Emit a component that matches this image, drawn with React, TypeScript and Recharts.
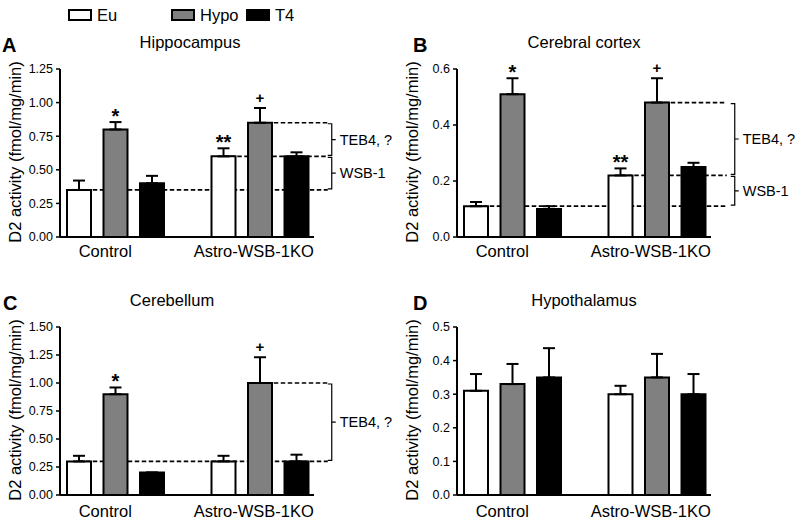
import React from "react";
import { BarChart, Bar, XAxis, YAxis, ErrorBar, ReferenceLine, LabelList } from "recharts";

const FONT = '"Liberation Sans", Arial, Helvetica, sans-serif';

const BAR_SIZE = 24;
const BAR_GAP = 12.5;
const PITCH = BAR_SIZE + BAR_GAP;

const groups = ["Control", "Astro-WSB-1KO"];

// A - Hippocampus
const hippoEu = [0.35, 0.6];
const hippoEuErr = [0.07, 0.06];
const hippoHypo = [0.8, 0.85];
const hippoHypoErr = [0.055, 0.11];
const hippoT4 = [0.4, 0.6];
const hippoT4Err = [0.055, 0.03];
const hippoEuSig = ["", "**"];
const hippoHypoSig = ["*", "+"];
const hippoTicks = [0, 0.25, 0.5, 0.75, 1, 1.25];

// B - Cerebral cortex
const cortexEu = [0.11, 0.22];
const cortexEuErr = [0.015, 0.025];
const cortexHypo = [0.51, 0.48];
const cortexHypoErr = [0.057, 0.087];
const cortexT4 = [0.1, 0.25];
const cortexT4Err = [0.01, 0.015];
const cortexEuSig = ["", "**"];
const cortexHypoSig = ["*", "+"];
const cortexTicks = [0, 0.2, 0.4, 0.6];

// C - Cerebellum
const cbEu = [0.3, 0.3];
const cbEuErr = [0.05, 0.05];
const cbHypo = [0.9, 1.0];
const cbHypoErr = [0.06, 0.23];
const cbT4 = [0.2, 0.3];
const cbT4Err = [0, 0.06];
const cbEuSig = ["", ""];
const cbHypoSig = ["*", "+"];
const cbTicks = [0, 0.25, 0.5, 0.75, 1, 1.25, 1.5];

// D - Hypothalamus
const hypEu = [0.31, 0.3];
const hypEuErr = [0.05, 0.025];
const hypHypo = [0.33, 0.35];
const hypHypoErr = [0.06, 0.07];
const hypT4 = [0.35, 0.3];
const hypT4Err = [0.087, 0.06];
const hypEuSig = ["", ""];
const hypHypoSig = ["", ""];
const hypTicks = [0, 0.1, 0.2, 0.3, 0.4, 0.5];

// dashed guides: level, group it starts in, bar it starts at (-1 Eu, 0 Hypo)
const hippoGuides = [
  { y: 0.35, group: 0, bar: -1 },
  { y: 0.6, group: 1, bar: -1 },
  { y: 0.85, group: 1, bar: 0 },
];
const hippoBraces = [
  { lo: 0.35, hi: 0.6, text: "WSB-1" },
  { lo: 0.6, hi: 0.85, text: "TEB4, ?" },
];
const cortexGuides = [
  { y: 0.11, group: 0, bar: -1 },
  { y: 0.22, group: 1, bar: -1 },
  { y: 0.48, group: 1, bar: 0 },
];
const cortexBraces = [
  { lo: 0.11, hi: 0.22, text: "WSB-1" },
  { lo: 0.22, hi: 0.48, text: "TEB4, ?" },
];
const cbGuides = [
  { y: 0.3, group: 0, bar: -1 },
  { y: 1.0, group: 1, bar: 0 },
];
const cbBraces = [{ lo: 0.3, hi: 1.0, text: "TEB4, ?" }];

type Guide = { y: number; group: number; bar: number };
type Brace = { lo: number; hi: number; text: string };

function makeRows(
  eu: number[], euErr: number[], hypo: number[], hypoErr: number[],
  t4: number[], t4Err: number[], euSig: string[], hypoSig: string[]
) {
  return groups.map((g, i) => ({
    group: g,
    eu: eu[i],
    euErr: [0, euErr[i]],
    euSig: euSig[i],
    hypo: hypo[i],
    hypoErr: [0, hypoErr[i]],
    hypoSig: hypoSig[i],
    t4: t4[i],
    t4Err: [0, t4Err[i]],
  }));
}

const sigMark = (vals: number[], errs: number[]) => (props: any) => {
  const value = props.value;
  if (!value) return null;
  const vb = props.viewBox || props;
  const idx = props.index ?? 0;
  const ppu = vb.height / vals[idx];
  const top = vb.y - errs[idx] * ppu;
  const plus = value === "+";
  return (
    <text
      x={vb.x + vb.width / 2}
      y={plus ? top - 5 : top + 0.5}
      textAnchor="middle"
      fontSize={plus ? 15 : 20}
      fontWeight="bold"
      fontFamily={FONT}
      fill="#000"
    >
      {value}
    </text>
  );
};

// dashed level line: starts at a bar of one group, runs past the last group
const guideShape = (bar: number, ext: number) => (p: any) => (
  <line
    x1={p.x1 + bar * PITCH}
    y1={p.y1}
    x2={p.x2 + ext}
    y2={p.y2}
    stroke="#000"
    strokeWidth={1.7}
    strokeDasharray="4.5 2.5"
  />
);

const braceShape = (text: string, off: number) => (p: any) => {
  const x = p.x1 + off;
  const yTop = Math.min(p.y1, p.y2) + 1;
  const yBot = Math.max(p.y1, p.y2) - 1;
  const mid = (yTop + yBot) / 2;
  return (
    <g>
      <path
        d={`M${x - 4},${yTop} H${x} V${yBot} H${x - 4} M${x},${mid} H${x + 4}`}
        fill="none"
        stroke="#000"
        strokeWidth={1.2}
      />
      <text x={x + 8} y={mid} dy="0.35em" fontSize={14.5} fontFamily={FONT} fill="#000">
        {text}
      </text>
    </g>
  );
};

const catTick = (shift: number) => (p: any) => (
  <text
    x={p.x + (p.index === 0 ? -10 : -6)}
    y={p.y + shift}
    dy="0.71em"
    textAnchor="middle"
    fill="#000"
    fontSize={16.5}
    fontFamily={FONT}
  >
    {p.payload.value}
  </text>
);

interface PanelProps {
  left: number;
  top: number;
  letter: string;
  letterX: number;
  title: string;
  titleX: number;
  rows: any[];
  eu: number[];
  euErr: number[];
  hypo: number[];
  hypoErr: number[];
  ticks: number[];
  decimals: number;
  guides: Guide[];
  braces: Brace[];
  guideExt: number;
  braceOff: number;
  labelShift: number;
}

function Panel(props: PanelProps) {
  const { left, top, letter, letterX, title, titleX, rows, ticks, decimals, guides, braces, guideExt, braceOff, labelShift } = props;
  return (
    <div style={{ position: "absolute", left, top, width: 400, height: 265 }}>
      <BarChart
        width={400}
        height={265}
        data={rows}
        margin={{ top: 69, right: 86, bottom: 0, left: 0 }}
        barSize={BAR_SIZE}
        barGap={BAR_GAP}
        style={{ overflow: "visible" }}
      >
        <XAxis
          dataKey="group"
          axisLine={{ stroke: "#000", strokeWidth: 2 }}
          tickLine={false}
          padding={{ left: -17, right: -18 }}
          height={28}
          interval={0}
          tick={catTick(labelShift)}
        />
        <YAxis
          width={60}
          domain={[ticks[0], ticks[ticks.length - 1]]}
          ticks={ticks}
          interval={0}
          allowDataOverflow
          tickFormatter={(v: number) => v.toFixed(decimals)}
          axisLine={{ stroke: "#000", strokeWidth: 2 }}
          tickLine={{ stroke: "#000", strokeWidth: 1.5 }}
          tickSize={4}
          tickMargin={3}
          tick={{ fill: "#000", fontSize: 12.5, fontFamily: FONT }}
        />
        {guides.map((g, i) => (
          <ReferenceLine
            key={`g${i}`}
            segment={[{ x: groups[g.group], y: g.y }, { x: groups[1], y: g.y }]}
            ifOverflow="visible"
            zIndex={-1}
            shape={guideShape(g.bar, guideExt)}
          />
        ))}
        {braces.map((b, i) => (
          <ReferenceLine
            key={`b${i}`}
            segment={[{ x: groups[1], y: b.lo }, { x: groups[1], y: b.hi }]}
            ifOverflow="visible"
            shape={braceShape(b.text, braceOff)}
          />
        ))}
        <Bar dataKey="eu" fill="#ffffff" stroke="#000" strokeWidth={2} isAnimationActive={false}>
          <ErrorBar dataKey="euErr" width={6} stroke="#000" strokeWidth={2} direction="y" />
          <LabelList dataKey="euSig" content={sigMark(props.eu, props.euErr)} />
        </Bar>
        <Bar dataKey="hypo" fill="#808080" stroke="#000" strokeWidth={2} isAnimationActive={false}>
          <ErrorBar dataKey="hypoErr" width={6} stroke="#000" strokeWidth={2} direction="y" />
          <LabelList dataKey="hypoSig" content={sigMark(props.hypo, props.hypoErr)} />
        </Bar>
        <Bar dataKey="t4" fill="#000" stroke="#000" strokeWidth={2} isAnimationActive={false}>
          <ErrorBar dataKey="t4Err" width={6} stroke="#000" strokeWidth={2} direction="y" />
        </Bar>
      </BarChart>
      <svg
        width={400}
        height={265}
        style={{ position: "absolute", left: 0, top: 0, pointerEvents: "none" }}
      >
        <text x={letterX} y={52} fontSize={20} fontWeight="bold" fontFamily={FONT} fill="#000">
          {letter}
        </text>
        <text x={titleX} y={48} textAnchor="middle" fontSize={16.5} fontFamily={FONT} fill="#000">
          {title}
        </text>
        <text
          transform="translate(21,152) rotate(-90)"
          textAnchor="middle"
          fontSize={16.5}
          fontFamily={FONT}
          fill="#000"
        >
          D2 activity (fmol/mg/min)
        </text>
      </svg>
    </div>
  );
}

export default function App() {
  const legend = [
    { name: "Eu", fill: "#ffffff", x: 69 },
    { name: "Hypo", fill: "#808080", x: 172 },
    { name: "T4", fill: "#000000", x: 247 },
  ];
  return (
    <div style={{ position: "absolute", left: 0, top: 0, width: 798, height: 525, background: "#fff", overflow: "hidden" }}>
      <Panel
        left={0} top={0} letter="A" letterX={2} title="Hippocampus" titleX={190}
        rows={makeRows(hippoEu, hippoEuErr, hippoHypo, hippoHypoErr, hippoT4, hippoT4Err, hippoEuSig, hippoHypoSig)}
        eu={hippoEu} euErr={hippoEuErr} hypo={hippoHypo} hypoErr={hippoHypoErr}
        ticks={hippoTicks} decimals={2} guides={hippoGuides} braces={hippoBraces}
        guideExt={68} braceOff={72} labelShift={0}
      />
      <Panel
        left={397} top={0} letter="B" letterX={16} title="Cerebral cortex" titleX={187}
        rows={makeRows(cortexEu, cortexEuErr, cortexHypo, cortexHypoErr, cortexT4, cortexT4Err, cortexEuSig, cortexHypoSig)}
        eu={cortexEu} euErr={cortexEuErr} hypo={cortexHypo} hypoErr={cortexHypoErr}
        ticks={cortexTicks} decimals={1} guides={cortexGuides} braces={cortexBraces}
        guideExt={70} braceOff={78} labelShift={0}
      />
      <Panel
        left={0} top={258} letter="C" letterX={3} title="Cerebellum" titleX={172}
        rows={makeRows(cbEu, cbEuErr, cbHypo, cbHypoErr, cbT4, cbT4Err, cbEuSig, cbHypoSig)}
        eu={cbEu} euErr={cbEuErr} hypo={cbHypo} hypoErr={cbHypoErr}
        ticks={cbTicks} decimals={2} guides={cbGuides} braces={cbBraces}
        guideExt={68} braceOff={72} labelShift={2}
      />
      <Panel
        left={397} top={258} letter="D" letterX={16} title="Hypothalamus" titleX={187}
        rows={makeRows(hypEu, hypEuErr, hypHypo, hypHypoErr, hypT4, hypT4Err, hypEuSig, hypHypoSig)}
        eu={hypEu} euErr={hypEuErr} hypo={hypHypo} hypoErr={hypHypoErr}
        ticks={hypTicks} decimals={1} guides={[]} braces={[]}
        guideExt={68} braceOff={72} labelShift={2}
      />
      <svg width={798} height={30} style={{ position: "absolute", left: 0, top: 0 }}>
        {legend.map((l) => (
          <g key={l.name}>
            <rect x={l.x} y={10} width={22} height={10} fill={l.fill} stroke="#000" strokeWidth={2} />
            <text x={l.x + 28} y={21} fontSize={16.5} fontFamily={FONT} fill="#000">
              {l.name}
            </text>
          </g>
        ))}
      </svg>
    </div>
  );
}
